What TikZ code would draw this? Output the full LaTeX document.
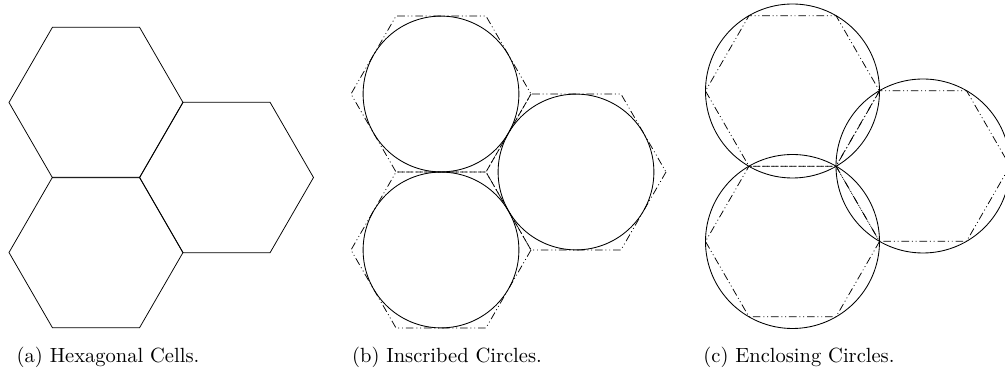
\documentclass[tikz,border=0pt]{standalone}
\usepackage{tikz}

\begin{document}
\begin{tikzpicture}[
  x=0.526pt, y=-0.526pt,
  font=\fontsize{10.8pt}{13pt}\selectfont,
  cell/.style={draw, line width=0.4pt},
  hexline/.style={draw, line width=0.4pt,
    dash pattern=on 4pt off 1.5pt on 0.5pt off 1.5pt on 0.5pt off 1.5pt},
  disc/.style={draw, line width=0.45pt},
  capt/.style={anchor=base, inner sep=0pt}
]
\useasboundingbox (0,0) rectangle (1005,370);

% ---------- (a) hexagonal cells ----------
\foreach \cx/\cy in {96/102.5, 96/252.5, 226.5/177.5}{
  \draw[cell] (\cx,\cy) ++(0:87) -- ++(120:87) -- ++(180:87) -- ++(240:87)
        -- ++(300:87) -- ++(0:87) -- cycle;
}

% ---------- (b) inscribed circles ----------
\foreach \cx/\cy [count=\i] in {441/94, 441/250, 576/172}{
  \draw[hexline] (\cx,\cy) ++(0:90) -- ++(120:90) -- ++(180:90) -- ++(240:90)
        -- ++(300:90) -- ++(0:90) -- cycle;
  \draw[disc] (\cx,\cy) circle[radius=77.9];
}

% ---------- (c) enclosing circles ----------
\foreach \cx/\cy [count=\i] in {792.5/91, 792.5/241.5, 923/166}{
  \draw[hexline] (\cx,\cy) ++(0:87) -- ++(120:87) -- ++(180:87) -- ++(240:87)
        -- ++(300:87) -- ++(0:87) -- cycle;
  \draw[disc] (\cx,\cy) circle[radius=87];
}

% captions
\node[capt] (capA) at (108,363) {(a) Hexagonal Cells.};
\node[capt] (capB) at (447,363) {(b) Inscribed Circles.};
\node[capt] (capC) at (799,363) {(c) Enclosing Circles.};

\end{tikzpicture}
\end{document}
